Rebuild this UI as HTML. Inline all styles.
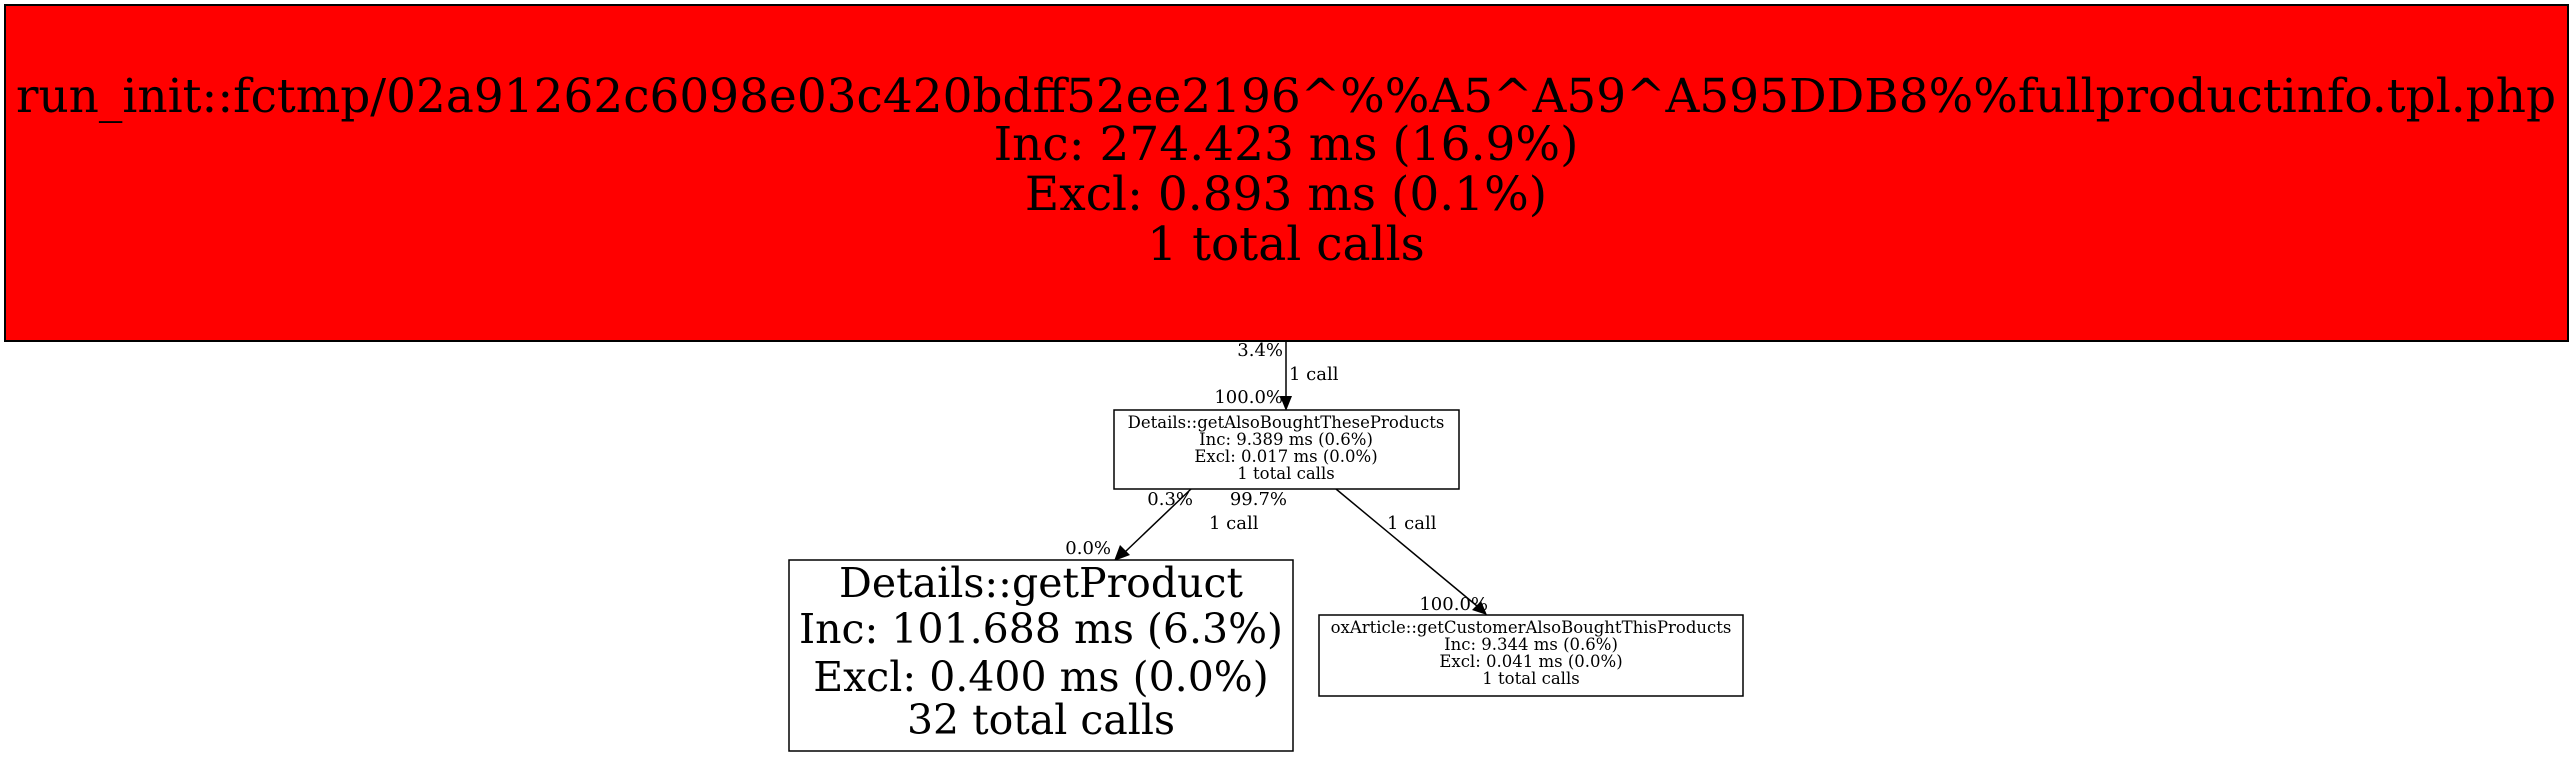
<!DOCTYPE html>
<html><head><meta charset="utf-8"><style>
html,body{margin:0;padding:0;background:#fff;}
svg{display:block;}
text{font-family:"DejaVu Serif","Liberation Serif",serif;fill:#000;}
</style></head><body>
<svg width="2573" height="757" viewBox="0 0 2573 757" xmlns="http://www.w3.org/2000/svg">
<rect x="5" y="5" width="2563" height="336" fill="#ff0000" stroke="#000" stroke-width="2"/>
<g font-size="47" text-anchor="middle">
<text x="1286" y="112" textLength="2540" lengthAdjust="spacingAndGlyphs">run_init::fctmp/02a91262c6098e03c420bdff52ee2196^%%A5^A59^A595DDB8%%fullproductinfo.tpl.php</text>
<text x="1286" y="160">Inc: 274.423 ms (16.9%)</text>
<text x="1286" y="210">Excl: 0.893 ms (0.1%)</text>
<text x="1286" y="260">1 total calls</text>
</g>
<line x1="1286" y1="341" x2="1286" y2="398" stroke="#000" stroke-width="1.5"/>
<polygon points="1280,396 1292,396 1286,411" fill="#000"/>
<g font-size="18">
<text x="1283" y="356" text-anchor="end">3.4%</text>
<text x="1289" y="380">1 call</text>
<text x="1283" y="403" text-anchor="end">100.0%</text>
</g>
<rect x="1114" y="410" width="345" height="79" fill="#fff" stroke="#000" stroke-width="1.5"/>
<g font-size="16.5" text-anchor="middle" style="fill:#222">
<text x="1286" y="428">Details::getAlsoBoughtTheseProducts</text>
<text x="1286" y="445">Inc: 9.389 ms (0.6%)</text>
<text x="1286" y="462">Excl: 0.017 ms (0.0%)</text>
<text x="1286" y="479">1 total calls</text>
</g>
<line x1="1191" y1="489" x2="1125" y2="552" stroke="#000" stroke-width="1.5"/>
<polygon points="1120,545 1130,555 1114,561" fill="#000"/>
<line x1="1336" y1="489" x2="1477" y2="606" stroke="#000" stroke-width="1.5"/>
<polygon points="1472,610 1481,601 1487,615" fill="#000"/>
<g font-size="18">
<text x="1193" y="505" text-anchor="end">0.3%</text>
<text x="1209" y="529">1 call</text>
<text x="1111" y="554" text-anchor="end">0.0%</text>
<text x="1287" y="505" text-anchor="end">99.7%</text>
<text x="1387" y="529">1 call</text>
<text x="1488" y="610" text-anchor="end">100.0%</text>
</g>
<rect x="789" y="560" width="504" height="191" fill="#fff" stroke="#000" stroke-width="1.5"/>
<g font-size="41" text-anchor="middle">
<text x="1041" y="597">Details::getProduct</text>
<text x="1041" y="643">Inc: 101.688 ms (6.3%)</text>
<text x="1041" y="691">Excl: 0.400 ms (0.0%)</text>
<text x="1041" y="734">32 total calls</text>
</g>
<rect x="1319" y="615" width="424" height="81" fill="#fff" stroke="#000" stroke-width="1.5"/>
<g font-size="16.5" text-anchor="middle" style="fill:#222">
<text x="1531" y="633">oxArticle::getCustomerAlsoBoughtThisProducts</text>
<text x="1531" y="650">Inc: 9.344 ms (0.6%)</text>
<text x="1531" y="667">Excl: 0.041 ms (0.0%)</text>
<text x="1531" y="684">1 total calls</text>
</g>
</svg>
</body></html>
